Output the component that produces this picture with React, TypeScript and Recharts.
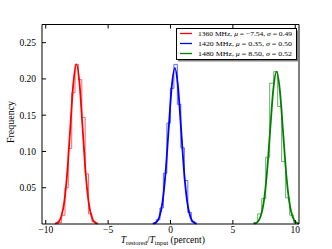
import React from 'react';
import { LineChart, Line, XAxis, YAxis } from 'recharts';

// histogram bin edges and per-bin frequency (step outline)
const RED_EDGES = [-9.0, -8.73, -8.46, -8.19, -7.92, -7.65, -7.38, -7.11, -6.84, -6.57, -6.3, -6.03];
const RED_FREQ = [0.002, 0.012, 0.05, 0.104, 0.181, 0.22, 0.199, 0.147, 0.069, 0.014, 0.003];

const BLUE_EDGES = [-1.41, -1.13, -0.85, -0.57, -0.29, -0.01, 0.27, 0.55, 0.83, 1.11, 1.39, 1.67, 1.95];
const BLUE_FREQ = [0.001, 0.006, 0.022, 0.07, 0.139, 0.187, 0.22, 0.165, 0.105, 0.06, 0.016, 0.003];

const GREEN_EDGES = [6.67, 6.99, 7.31, 7.63, 7.95, 8.27, 8.59, 8.91, 9.23, 9.55, 9.87, 10.19];
const GREEN_FREQ = [0.002, 0.014, 0.035, 0.092, 0.194, 0.21, 0.162, 0.086, 0.036, 0.012, 0.002];

// gaussian fit curves
const RED_FIT_X = [-9.255, -9.01, -8.765, -8.52, -8.275, -8.03, -7.785, -7.54, -7.295, -7.05, -6.805, -6.56, -6.315, -6.07, -5.825];
const RED_FIT_Y = [0.0005, 0.0024, 0.0097, 0.0298, 0.0714, 0.1334, 0.1942, 0.22, 0.1942, 0.1334, 0.0714, 0.0298, 0.0097, 0.0024, 0.0005];

const BLUE_FIT_X = [-1.4, -1.15, -0.9, -0.65, -0.4, -0.15, 0.1, 0.35, 0.6, 0.85, 1.1, 1.35, 1.6, 1.85, 2.1];
const BLUE_FIT_Y = [0.0005, 0.0024, 0.0094, 0.0291, 0.0698, 0.1304, 0.1897, 0.215, 0.1897, 0.1304, 0.0698, 0.0291, 0.0094, 0.0024, 0.0005];

const GREEN_FIT_X = [6.68, 6.94, 7.2, 7.46, 7.72, 7.98, 8.24, 8.5, 8.76, 9.02, 9.28, 9.54, 9.8, 10.06, 10.32];
const GREEN_FIT_Y = [0.0005, 0.0023, 0.0092, 0.0284, 0.0682, 0.1274, 0.1853, 0.21, 0.1853, 0.1274, 0.0682, 0.0284, 0.0092, 0.0023, 0.0005];

const X_TICKS = [-10, -5, 0, 5, 10];
const Y_TICKS = [0.05, 0.1, 0.15, 0.2, 0.25];

const LEGEND = [
  { freq: '1360', mu: '\u22127.54', sigma: '0.49', color: '#ff0000' },
  { freq: '1420', mu: '0.35', sigma: '0.50', color: '#0000ff' },
  { freq: '1480', mu: '8.50', sigma: '0.52', color: '#008000' },
];

const FONT = '"Liberation Serif", "DejaVu Serif", serif';

const histPoints = (edges: number[], freq: number[]) => {
  const pts = [{ x: edges[0], y: 0 }];
  freq.forEach((f, i) => pts.push({ x: edges[i], y: f }));
  pts.push({ x: edges[edges.length - 1], y: 0 });
  return pts;
};

const fitPoints = (xs: number[], ys: number[]) => xs.map((x, i) => ({ x, y: ys[i] }));

const fmtX = (v: number) => (v < 0 ? '\u2212' + Math.abs(v) : String(v));

const App = () => {
  const tickStyle = { fontFamily: FONT, fontSize: 9.5, fill: '#000' };
  return (
    <div style={{ position: 'absolute', left: 0, top: 0, width: 332, height: 249, background: '#fff' }}>
      <LineChart width={332} height={249} margin={{ top: 19.5, right: 28, bottom: 5, left: 12 }}>
        <XAxis
          xAxisId="b"
          dataKey="x"
          type="number"
          domain={[-10.3, 10.3]}
          ticks={X_TICKS}
          tickFormatter={fmtX}
          allowDataOverflow
          height={20}
          tickSize={-4}
          tickMargin={6.5}
          stroke="#000"
          tick={tickStyle}
        />
        <XAxis
          xAxisId="t"
          orientation="top"
          dataKey="x"
          type="number"
          domain={[-10.3, 10.3]}
          ticks={X_TICKS}
          tickFormatter={() => ''}
          allowDataOverflow
          height={5}
          tickSize={-4}
          stroke="#000"
        />
        <YAxis
          yAxisId="l"
          type="number"
          domain={[0, 0.275]}
          ticks={Y_TICKS}
          tickFormatter={(v: number) => v.toFixed(2)}
          width={30}
          tickSize={-4}
          tickMargin={10}
          stroke="#000"
          tick={tickStyle}
        />
        <YAxis
          yAxisId="r"
          orientation="right"
          type="number"
          domain={[0, 0.275]}
          ticks={Y_TICKS}
          tickFormatter={() => ''}
          width={5}
          tickSize={-4}
          stroke="#000"
        />
        <Line xAxisId="b" yAxisId="l" data={histPoints(RED_EDGES, RED_FREQ)} dataKey="y" type="stepAfter" stroke="#ff0000" strokeOpacity={0.6} strokeWidth={1} dot={false} isAnimationActive={false} />
        <Line xAxisId="b" yAxisId="l" data={histPoints(BLUE_EDGES, BLUE_FREQ)} dataKey="y" type="stepAfter" stroke="#0000ff" strokeOpacity={0.6} strokeWidth={1} dot={false} isAnimationActive={false} />
        <Line xAxisId="b" yAxisId="l" data={histPoints(GREEN_EDGES, GREEN_FREQ)} dataKey="y" type="stepAfter" stroke="#008000" strokeOpacity={0.6} strokeWidth={1} dot={false} isAnimationActive={false} />
        <Line xAxisId="b" yAxisId="l" data={fitPoints(RED_FIT_X, RED_FIT_Y)} dataKey="y" type="monotone" stroke="#ff0000" strokeWidth={1.8} dot={false} isAnimationActive={false} />
        <Line xAxisId="b" yAxisId="l" data={fitPoints(BLUE_FIT_X, BLUE_FIT_Y)} dataKey="y" type="monotone" stroke="#0000ff" strokeWidth={1.8} dot={false} isAnimationActive={false} />
        <Line xAxisId="b" yAxisId="l" data={fitPoints(GREEN_FIT_X, GREEN_FIT_Y)} dataKey="y" type="monotone" stroke="#008000" strokeWidth={1.8} dot={false} isAnimationActive={false} />
      </LineChart>
      <svg width={332} height={249} style={{ position: 'absolute', left: 0, top: 0, pointerEvents: 'none' }}>
        <text transform="translate(14,122) rotate(-90)" textAnchor="middle" fontFamily={FONT} fontSize={10} fill="#000">
          Frequency
        </text>
        <text x={120.7} y={243} fontFamily={FONT} fontSize={9.5} fill="#000">
          <tspan fontStyle="italic">T</tspan>
          <tspan fontSize={6.5} dy={1.8}>restored</tspan>
          <tspan dy={-1.8}>/</tspan>
          <tspan fontStyle="italic">T</tspan>
          <tspan fontSize={6.5} dy={1.8}>input</tspan>
          <tspan dy={-1.8}> (percent)</tspan>
        </text>
        {/* legend box with shadow */}
        <rect x={178} y={30.5} width={120.5} height={31} fill="#808080" />
        <rect x={176.5} y={28.5} width={120} height={31} fill="#fff" stroke="#000" strokeWidth={1} />
        {LEGEND.map((l, i) => {
          const y = 33.5 + i * 10;
          return (
            <g key={l.freq}>
              <line x1={180} x2={192} y1={y} y2={y} stroke={l.color} strokeWidth={1.3} />
              <text x={198} y={y + 2.5} fontFamily={FONT} fontSize={7} fill="#000" textLength={94} lengthAdjust="spacingAndGlyphs">
                {l.freq} MHz, <tspan fontStyle="italic">{'\u03bc'}</tspan> = {l.mu}, <tspan fontStyle="italic">{'\u03c3'}</tspan> = {l.sigma}
              </text>
            </g>
          );
        })}
      </svg>
    </div>
  );
};

export default App;
